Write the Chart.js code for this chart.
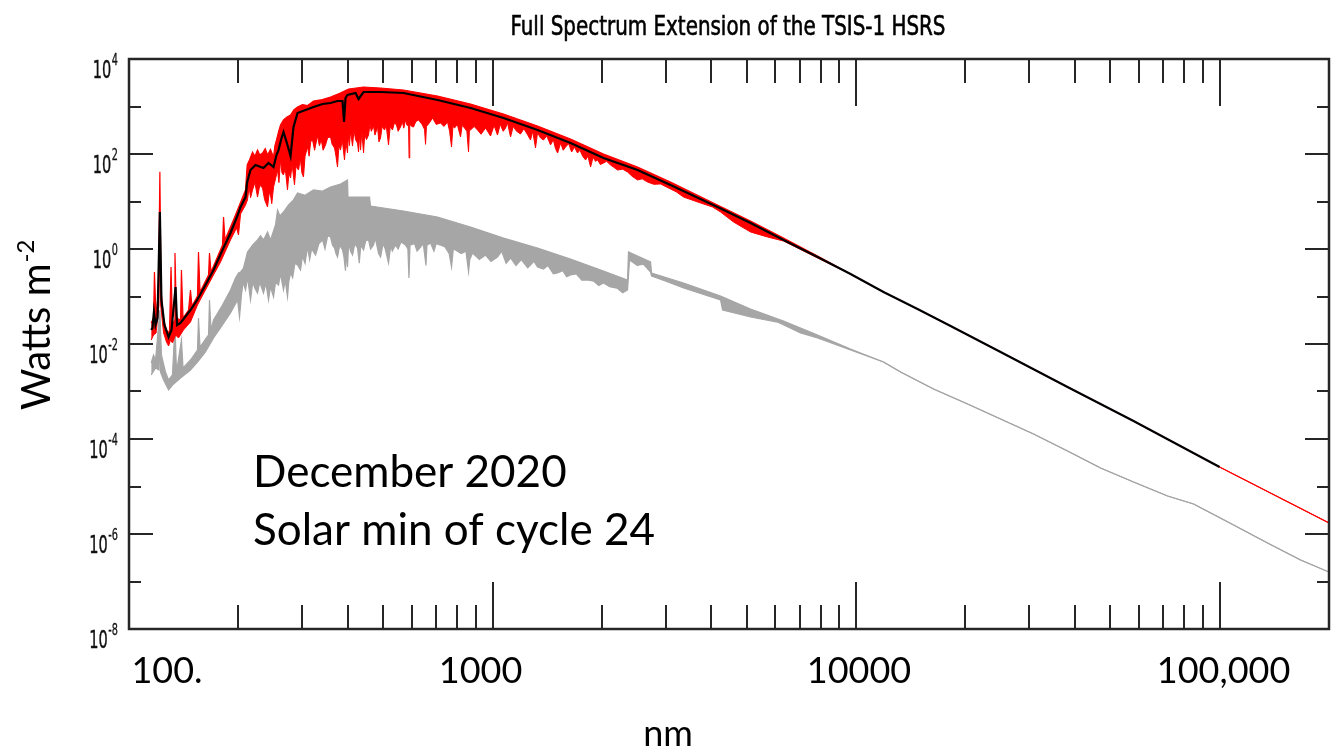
<!DOCTYPE html>
<html>
<head>
<meta charset="utf-8">
<title>Full Spectrum Extension of the TSIS-1 HSRS</title>
<script src="https://cdn.jsdelivr.net/npm/chart.js@4.4.1/dist/chart.umd.min.js"></script>
<style>
    html, body { margin: 0; padding: 0; background: #ffffff; }
</style>
</head>
<body>
<canvas id="spectrumChart" width="1340" height="752"></canvas>
<script>
// wavelength (nm), irradiance (W m-2)
const blackLine = [
    [115.1, 0.0197], [116.0, 0.0217], [117.1, 0.0472], [118.3, 0.0251], [119.8, 0.0353],
    [121.6, 6.01], [122.8, 0.0844], [125.2, 0.0251], [128.5, 0.0140], [130.9, 0.0197],
    [134.3, 0.158], [135.6, 0.0251], [138.6, 0.0277], [147.6, 0.0520], [154.0, 0.0844],
    [162.3, 0.175], [170.8, 0.361], [180.8, 0.953], [190.2, 2.17], [197.6, 4.49],
    [202.7, 7.66], [209.2, 12.4], [211.4, 25.7], [215.9, 46.0], [222.8, 58.7],
    [234.4, 50.7], [242.0, 64.6], [249.8, 53.2], [254.5, 95.3], [257.8, 121],
    [262.8, 217], [266.1, 290], [272.9, 155], [278.2, 90.8], [283.5, 370],
    [290.8, 730], [305.9, 844], [321.8, 976], [340.7, 1129], [358.4, 1185],
    [374.6, 1305], [386.7, 1305], [390.4, 472], [394.1, 1510], [399.1, 1746],
    [420.0, 1924], [428.0, 1438], [441.8, 2020], [492.0, 2020], [569.2, 1924],
    [706.0, 1370], [870.1, 930], [1072, 573], [1330, 320], [1639, 170],
    [2020, 82.4], [2506, 46.0], [3088, 22.3], [4159, 7.66], [5126, 3.53],
    [6318, 1.55], [7837, 0.679]
];
const blackTail = [
    [9657, 0.298], [11900, 0.124], [14760, 0.0546], [18200, 0.0239], [24980, 0.00679],
    [38170, 0.00124], [57990, 0.000239], [100000, 0.0000257]
];

const redUpper = [
    [115.1, 0.0277], [116.8, 0.0353], [117.5, 0.328], [118.7, 0.0353], [120.5, 0.137],
    [121.6, 42.4], [122.5, 0.137], [124.5, 0.0320], [126.8, 0.0197], [129.2, 0.0170],
    [130.5, 0.418], [131.7, 0.0251], [133.4, 0.0320], [133.8, 0.824], [135.1, 0.0353],
    [138.6, 0.0320], [139.4, 0.361], [140.8, 0.0353], [145.8, 0.0520], [147.6, 0.137],
    [149.0, 0.0631], [154.3, 0.102], [155.3, 0.865], [156.8, 0.124], [165.5, 0.284],
    [166.5, 0.824], [168.1, 0.328], [180.8, 1.21], [182.0, 4.72], [183.7, 1.55],
    [196.3, 5.20], [203.9, 10.8], [209.2, 17.5], [211.4, 58.7], [214.5, 74.8],
    [218.7, 110], [222, 90], [225.7, 121], [229, 95], [233.0, 105], [237, 130],
    [240.5, 95.3], [245, 125], [249.8, 86.5], [252, 150], [254.5, 197], [258, 300],
    [261.1, 408], [266.1, 520], [272, 600], [278.2, 662], [284, 850], [290.8, 976],
    [300, 1100], [310, 1050], [321.8, 1305], [340, 1400], [358.4, 1585], [380, 1900],
    [401.7, 2336], [441.8, 2574], [492.0, 2452],
    [569.2, 2225], [706.0, 1664], [870.1, 1129], [1072, 695], [1330, 389],
    [1639, 207], [2020, 100], [2506, 53.2], [3088, 25.7], [4159, 8.44],
    [5126, 3.89], [6318, 1.70], [7837, 0.712]
];
const redLower = [
    [115.1, 0.0121], [116.8, 0.0155], [118.7, 0.0170], [120.9, 0.0662], [121.6, 5.20],
    [122.2, 0.0662], [124.5, 0.0170], [126.8, 0.0110], [128.5, 0.00908], [130.1, 0.0121],
    [131.7, 0.0105], [134.3, 0.0155], [136.8, 0.0134], [141.2, 0.0197], [147.6, 0.0290],
    [154.3, 0.0662], [162.3, 0.137], [170.8, 0.284], [178.6, 0.533], [190.2, 1.55],
    [197.6, 2.77], [200.1, 1.97], [202.7, 5.46], [209.2, 8.44], [211.8, 10.8],
    [214, 20], [216, 12], [218.7, 17.5], [222, 25], [225.7, 12.4], [229, 22],
    [233.0, 19.2], [236, 11], [240.5, 7.66], [243, 15], [245.1, 13.7], [247, 9],
    [249.8, 20.2], [253, 30], [256.2, 46.0], [258.5, 25], [261.1, 74.8], [263.5, 40],
    [266.1, 36.1], [269, 50], [272.9, 17.5], [275.5, 40], [278.2, 31.2], [281, 60],
    [285.3, 22.3], [288, 55], [292.7, 46.0], [296, 80], [299, 40], [302.0, 32.8],
    [305, 90], [309.8, 140], [313, 90], [316, 180], [319.8, 197], [324, 120],
    [330, 240], [334, 150], [338, 200], [342, 120], [347.2, 155], [352, 220],
    [358.4, 228], [362, 160], [367.6, 134], [371, 90], [374.6, 53.2], [378, 150],
    [381.8, 121], [386, 200], [391.6, 74.8], [395, 180], [399.1, 105],
    [401, 250], [404, 150], [407, 300], [412, 147], [416, 320], [420, 200],
    [425.3, 170], [428, 110], [431, 260], [433.5, 121], [437, 300], [441.8, 105],
    [445, 260], [450, 200], [456.0, 251], [460, 420], [464, 300], [470.6, 389],
    [475, 250], [482.7, 370], [487, 180], [492.0, 217], [497, 380], [504.6, 320],
    [510, 400], [517.5, 155], [523, 380], [530.8, 320], [537, 450], [544.4, 408],
    [550, 300], [558.4, 370], [565, 480], [570, 350], [576.4, 520], [582, 400],
    [587.5, 408], [589.5, 82.4], [592, 420], [600, 380], [606.4, 370], [615, 480],
    [625.9, 520], [640, 420], [650, 330], [654.3, 160], [658, 380], [670, 450],
    [684.0, 573], [700, 420], [719.5, 449], [735, 380], [752.1, 472], [762, 300],
    [771.4, 140], [778, 380], [786.2, 353], [800, 420], [816.7, 228], [825, 400],
    [837.6, 353], [850, 300], [859.1, 110], [864, 330], [870.1, 320], [890, 380],
    [909.5, 320], [930, 260], [956.8, 353], [975, 280], [987.4, 239], [1010, 400],
    [1032, 251], [1050, 420], [1070, 300], [1086, 353], [1100, 450], [1121, 228],
    [1140, 380], [1165, 300], [1194, 264], [1220, 340], [1250, 250], [1272, 197],
    [1290, 300], [1313, 134], [1330, 280], [1356, 217], [1381, 197], [1410, 240],
    [1444, 155], [1470, 200], [1490, 130], [1510, 105], [1540, 170], [1565, 120],
    [1588, 140], [1620, 165], [1650, 110], [1680, 140], [1713, 105], [1740, 120],
    [1770, 90], [1803, 74.8], [1830, 90], [1861, 53.2], [1890, 85], [1920, 70],
    [1945, 74.8], [1980, 60], [2020, 64.6], [2060, 70], [2112, 58.7], [2160, 52],
    [2208, 46.0], [2280, 48], [2352, 41.8], [2420, 34], [2506, 28.4], [2580, 30],
    [2669, 25.7], [2780, 23], [2899, 23.4], [3088, 18.3], [3200, 16], [3354, 12.4],
    [3735, 9.30], [4029, 7.66], [4239, 6.01], [4603, 3.70], [5126, 2.28],
    [5707, 1.79], [6318, 1.47], [7837, 0.646]
];
const redTail = [
    [9657, 0.298], [11900, 0.124], [14760, 0.0546], [18200, 0.0239], [24980, 0.00679],
    [38170, 0.00124], [57990, 0.000239], [100000, 0.0000257], [200000, 0.00000171]
];

const greyUpper = [
    [115.1, 0.00398], [116.8, 0.00587], [118.3, 0.00461], [121.6, 0.0520], [122.8, 0.00587],
    [126.0, 0.00257], [128.5, 0.00175], [131.7, 0.00223], [133.8, 0.0251], [135.1, 0.00257],
    [139.4, 0.0121], [140.8, 0.00312], [147.6, 0.00461], [154.3, 0.00748], [155.3, 0.0353],
    [156.8, 0.00865], [165.5, 0.0155], [166.5, 0.0844], [168.1, 0.0197], [170.8, 0.0320],
    [180.8, 0.0662], [190.2, 0.137], [196.3, 0.245], [200.1, 0.312], [202.7, 0.328],
    [206.5, 0.398], [209.2, 0.587], [211.8, 0.865], [218.7, 1.21], [225.7, 1.55],
    [230, 1.9], [234.4, 1.55], [240.5, 2.28], [245.1, 1.55], [252.9, 3.20], [256.2, 6.62],
    [260, 5.0], [266.1, 6.01], [274.7, 8.44], [283.5, 10.8], [290.8, 15.1], [305, 13.5],
    [321.8, 17.5], [340, 16.5], [358.4, 20.2], [381.8, 23.4], [399.1, 28.4], [400.4, 12.4],
    [458.9, 12.4], [461.8, 8.04], [569.2, 6.31], [706.0, 4.72], [870.1, 2.90], [1072, 1.70],
    [1330, 1.05], [1639, 0.616], [2020, 0.344], [2352, 0.223], [2366, 0.865],
    [2721, 0.533], [2738, 0.312], [3354, 0.192], [4239, 0.102], [5126, 0.0546],
    [6318, 0.0305], [7837, 0.0155], [9657, 0.00785]
];
const greyLower = [
    [115.1, 0.00223], [118.3, 0.00312], [120.9, 0.00284], [121.6, 0.0197], [122.1, 0.00257],
    [124.5, 0.00175], [128.5, 0.00108], [131.7, 0.00137], [138.6, 0.00192], [147.6, 0.00284],
    [154.3, 0.00418], [162.3, 0.00679], [170.8, 0.0134], [180.8, 0.0251], [190.2, 0.0449],
    [198.9, 0.0844], [201.4, 0.0370], [203.9, 0.108], [206, 0.2], [209.2, 0.137],
    [212, 0.25], [215.9, 0.0844], [219, 0.2], [222, 0.15], [225.7, 0.118], [229, 0.2],
    [234.4, 0.118], [238, 0.19], [242.0, 0.0844], [245, 0.16], [249.8, 0.0976], [253, 0.2],
    [257.8, 0.175], [261, 0.3], [266.1, 0.137], [269, 0.22], [272.9, 0.0976], [275, 0.2],
    [278.2, 0.312], [282, 0.25], [286, 0.5], [290.8, 0.460], [296.4, 0.361], [300, 0.7],
    [305, 0.5], [309.8, 1.10], [314, 0.6], [318, 1.0], [326.0, 0.748], [333, 1.3],
    [340.7, 1.55], [346, 1.0], [352, 1.9], [358.4, 1.79], [363, 1.2], [367.6, 1.05],
    [371, 0.8], [374.6, 0.679], [380, 1.2], [386.7, 0.953], [390, 0.7], [394, 0.35],
    [396, 0.9], [399.1, 0.418], [402, 1.3], [407, 0.9], [412.0, 0.748], [418, 1.3],
    [425.3, 1.05], [430, 0.5], [434, 1.2], [441.8, 0.953], [448, 1.5], [456.0, 1.55],
    [462, 1.0], [470.6, 1.21], [476, 1.7], [486, 0.8], [492.0, 0.679], [500, 1.3],
    [507, 1.0], [517.5, 0.507], [525, 1.2], [530, 0.9], [541.0, 1.21], [550, 1.0],
    [560, 1.4], [576.4, 1.21], [585, 1.0], [589, 0.245], [593, 1.21], [610, 1.3],
    [620, 0.9], [633.9, 1.10], [645, 1.3], [656, 0.45], [660, 1.2], [675.4, 1.34],
    [690, 0.9], [700, 1.3], [719.5, 1.21], [740, 1.1], [760, 0.8], [771.4, 0.418],
    [780, 1.0], [791.2, 0.953], [820, 0.8], [845, 0.9], [859.1, 0.328], [866, 0.6],
    [881.2, 0.824], [920, 0.6], [956.8, 0.748], [990, 0.55], [1032, 0.679], [1060, 0.9],
    [1090, 0.5], [1121, 0.646], [1160, 0.45], [1200, 0.6], [1250, 0.4], [1300, 0.55],
    [1330, 0.418], [1380, 0.38], [1420, 0.45], [1470, 0.3], [1510, 0.312], [1560, 0.35],
    [1600, 0.26], [1639, 0.284], [1700, 0.3], [1760, 0.22], [1826, 0.223], [1900, 0.21],
    [1960, 0.17], [2020, 0.192], [2100, 0.16], [2200, 0.15], [2280, 0.12], [2352, 0.137],
    [2382, 0.587], [2500, 0.45], [2600, 0.48], [2721, 0.328], [2738, 0.270], [3000, 0.21],
    [3354, 0.151], [4239, 0.0844], [4293, 0.0520], [5126, 0.0370], [6081, 0.0290],
    [7036, 0.0170], [7837, 0.0134], [9657, 0.00748]
];
const greyTail = [
    [11900, 0.00418], [13260, 0.00257], [16340, 0.00113], [20270, 0.000546], [24980, 0.000264],
    [30780, 0.000127], [38170, 0.0000559], [47060, 0.0000245], [57990, 0.0000124], [71940, 0.0000063],
    [84830, 0.00000428], [109300, 0.00000155], [135500, 6.46e-7], [167100, 2.84e-7], [200000, 1.58e-7]
];

// axis ticks and labels
const xMajorTicks = [100, 1000, 10000, 100000];
const xTickLabels = ["100.", "1000", "10000", "100,000"];
const yLabelPowers = [4, 2, 0, -2, -4, -6, -8];

const chartTitle = "Full Spectrum Extension of the TSIS-1 HSRS";
const xTitle = "nm";
const yTitle = "Watts m";
const yTitleSup = "-2";
const noteLines = ["December 2020", "Solar min of cycle 24"];

const RED = "#ff0000";
const GREY = "#a6a6a6";
const AXIS = "#262626";

function toXY(pairs) {
    return pairs.map(p => ({ x: p[0], y: p[1] }));
}

// draw text squeezed horizontally to a given width, optionally thickened
function drawSqueezed(ctx, text, x, y, font, width, align, thicken) {
    ctx.save();
    ctx.font = font;
    const sx = width / ctx.measureText(text).width;
    let left = x;
    if (align === "center") left = x - width / 2;
    if (align === "right") left = x - width;
    ctx.translate(left, y);
    ctx.scale(sx, 1);
    ctx.textAlign = "left";
    ctx.fillText(text, 0, 0);
    if (thicken) {
        ctx.lineWidth = thicken;
        ctx.strokeStyle = ctx.fillStyle;
        ctx.strokeText(text, 0, 0);
    }
    ctx.restore();
}

const decorPlugin = {
    id: "decor",
    afterDraw(chart) {
        const ctx = chart.ctx;
        const a = chart.chartArea;
        const xs = chart.scales.x;
        const ys = chart.scales.y;

        ctx.save();
        ctx.strokeStyle = AXIS;
        ctx.lineWidth = 2;
        ctx.beginPath();

        // x ticks on bottom and top, pointing inward
        xMajorTicks.forEach(d => {
            for (let m = 1; m <= 9; m++) {
                const v = d * m;
                if (v >= xs.max) continue;
                const px = Math.round(xs.getPixelForValue(v));
                const len = m === 1 ? 47 : 24;
                ctx.moveTo(px, a.bottom);
                ctx.lineTo(px, a.bottom - len);
                ctx.moveTo(px, a.top);
                ctx.lineTo(px, a.top + len);
            }
        });

        // y ticks on left and right
        for (let p = -8; p <= 4; p++) {
            const py = Math.round(ys.getPixelForValue(Math.pow(10, p)));
            const len = p % 2 === 0 ? 24 : 12;
            ctx.moveTo(a.left, py);
            ctx.lineTo(a.left + len, py);
            ctx.moveTo(a.right, py);
            ctx.lineTo(a.right - len, py);
        }
        ctx.stroke();

        // frame
        ctx.lineWidth = 2.5;
        ctx.strokeRect(a.left, a.top, a.right - a.left, a.bottom - a.top);

        ctx.fillStyle = "#111111";
        ctx.textBaseline = "alphabetic";

        // y tick labels 10^n in a narrow face
        const baseFont = '24px "DejaVu Sans Condensed", "DejaVu Sans", sans-serif';
        const supFont = '16px "DejaVu Sans Condensed", "DejaVu Sans", sans-serif';
        ctx.font = baseFont;
        const sx = 18.5 / ctx.measureText("10").width;
        yLabelPowers.forEach(p => {
            const py = ys.getPixelForValue(Math.pow(10, p));
            const exp = String(p);
            ctx.font = supFont;
            const expW = ctx.measureText(exp).width * sx;
            drawSqueezed(ctx, exp, 118, py + 6, supFont, expW, "right", 0.3);
            drawSqueezed(ctx, "10", 118 - expW - 0.5, py + 18.5, baseFont, 18.5, "right", 0.4);
        });

        // title
        ctx.fillStyle = "#000000";
        drawSqueezed(ctx, chartTitle, 728, 35, '27px "DejaVu Sans Condensed", "DejaVu Sans", sans-serif', 435, "center", 0.6);

        // x tick labels
        ctx.font = '36px Lato, "Open Sans", sans-serif';
        ctx.textAlign = "center";
        const labelShift = [38, -12, 3, 4];
        xMajorTicks.forEach((v, i) => {
            const px = xs.getPixelForValue(v);
            ctx.fillText(xTickLabels[i], px + labelShift[i], a.bottom + 54);
        });

        // axis titles
        ctx.fillText(xTitle, 668, 746);

        ctx.save();
        ctx.translate(50, 410);
        ctx.rotate(-Math.PI / 2);
        ctx.textAlign = "left";
        ctx.font = '40px Lato, "Open Sans", sans-serif';
        ctx.fillText(yTitle, 0, 0);
        const tw = ctx.measureText(yTitle).width;
        ctx.font = '24px Lato, "Open Sans", sans-serif';
        ctx.fillText(yTitleSup, tw + 1, -16);
        ctx.restore();

        // note in the lower left
        ctx.textAlign = "left";
        ctx.font = '44px Lato, "Open Sans", sans-serif';
        ctx.fillText(noteLines[0], 253, 487);
        ctx.fillText(noteLines[1], 253, 545);

        ctx.restore();
    }
};

function initializeChart() {
    const ctx = document.getElementById("spectrumChart").getContext("2d");
    return new Chart(ctx, {
        type: "line",
        data: {
            datasets: [
                {
                    label: "Smoothed",
                    data: toXY(blackLine.concat(blackTail)),
                    borderColor: "#000000",
                    borderWidth: 2.2,
                    fill: false
                },
                {
                    label: "HSRS upper",
                    data: toXY(redUpper.concat(redTail)),
                    borderColor: RED,
                    backgroundColor: RED,
                    borderWidth: 1.2,
                    fill: "+1"
                },
                {
                    label: "HSRS lower",
                    data: toXY(redLower.concat(redTail)),
                    borderColor: RED,
                    borderWidth: 1,
                    fill: false
                },
                {
                    label: "Grey upper",
                    data: toXY(greyUpper.concat(greyTail)),
                    borderColor: GREY,
                    backgroundColor: GREY,
                    borderWidth: 1.2,
                    fill: "+1"
                },
                {
                    label: "Grey lower",
                    data: toXY(greyLower.concat(greyTail)),
                    borderColor: GREY,
                    borderWidth: 1.2,
                    fill: false
                }
            ]
        },
        options: {
            responsive: false,
            animation: false,
            devicePixelRatio: 1,
            layout: { padding: { left: 129, top: 59, right: 11, bottom: 123 } },
            elements: {
                point: { radius: 0, hoverRadius: 0 },
                line: { tension: 0 }
            },
            plugins: {
                legend: { display: false },
                title: { display: false },
                tooltip: { enabled: false }
            },
            scales: {
                x: { type: "logarithmic", min: 100, max: 200000, display: false },
                y: { type: "logarithmic", min: 1e-8, max: 1e4, display: false }
            }
        },
        plugins: [decorPlugin]
    });
}

window.onload = () => {
    initializeChart();
};
</script>
</body>
</html>
